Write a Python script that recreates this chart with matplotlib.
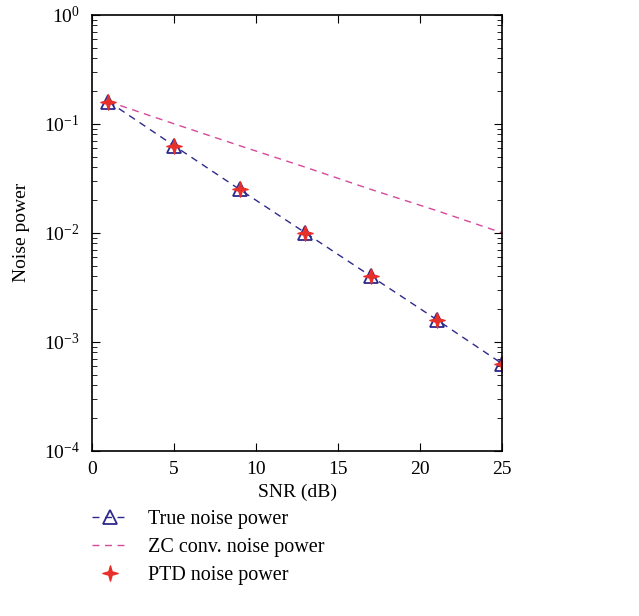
import matplotlib
matplotlib.use("Agg")
import matplotlib.pyplot as plt
from matplotlib.path import Path
import numpy as np

plt.rcParams['font.family'] = ['Liberation Serif', 'DejaVu Serif']
plt.rcParams['mathtext.fontset'] = 'stix'

snr = [1, 5, 9, 13, 17, 21, 25]
true_noise = [0.16, 0.063, 0.025, 0.01, 0.004, 0.0016, 0.00063]
zc_noise = [0.16, 0.10, 0.063, 0.040, 0.025, 0.016, 0.010]
ptd_noise = [0.16, 0.063, 0.025, 0.01, 0.004, 0.0016, 0.00063]

star_verts = [(0, 1), (0.22, 0.22), (1, 0), (0.22, -0.22), (0, -1), (-0.22, -0.22), (-1, 0), (-0.22, 0.22), (0, 1)]
star = Path(star_verts, [Path.MOVETO] + [Path.LINETO] * 7 + [Path.CLOSEPOLY])

fig = plt.figure(figsize=(6.39, 6.16), dpi=100)
ax = fig.add_axes([0.144, 0.268, 0.642, 0.708])

blue = '#2e2a8c'
pink = '#d6499a'
red = '#e8302a'

ax.semilogy(snr, true_noise, linestyle=(0, (5, 4)), color=blue, lw=1.0,
            marker='^', markersize=10, markerfacecolor='none', markeredgecolor=blue,
            markeredgewidth=1.3, label='True noise power')
ax.semilogy(snr, zc_noise, linestyle=(0, (5, 4)), color=pink, lw=1.0,
            label='ZC conv. noise power')
ax.semilogy(snr, ptd_noise, linestyle='none', marker=star, markersize=11,
            color=red, markeredgecolor=red, label='PTD noise power')

ax.set_xlim(0, 25)
ax.set_ylim(1e-4, 1)
ax.set_xticks([0, 5, 10, 15, 20, 25])
ax.set_xlabel('SNR (dB)', fontsize=14, labelpad=4)
ax.set_ylabel('Noise power', fontsize=14, labelpad=10)
ax.tick_params(which='both', direction='in', top=True, right=True, labelsize=14)
ax.tick_params(axis='x', which='major', pad=7)
ax.tick_params(axis='y', which='major', pad=9)
ax.tick_params(which='major', length=6)
ax.tick_params(which='minor', length=3.5)
for s in ax.spines.values():
    s.set_linewidth(1.2)

leg = ax.legend(loc='upper left', bbox_to_anchor=(-0.045, -0.094), frameon=False,
                fontsize=14.5, handlelength=1.8, labelspacing=0.45, handletextpad=1.0)

fig.savefig('out.png', dpi=100)
